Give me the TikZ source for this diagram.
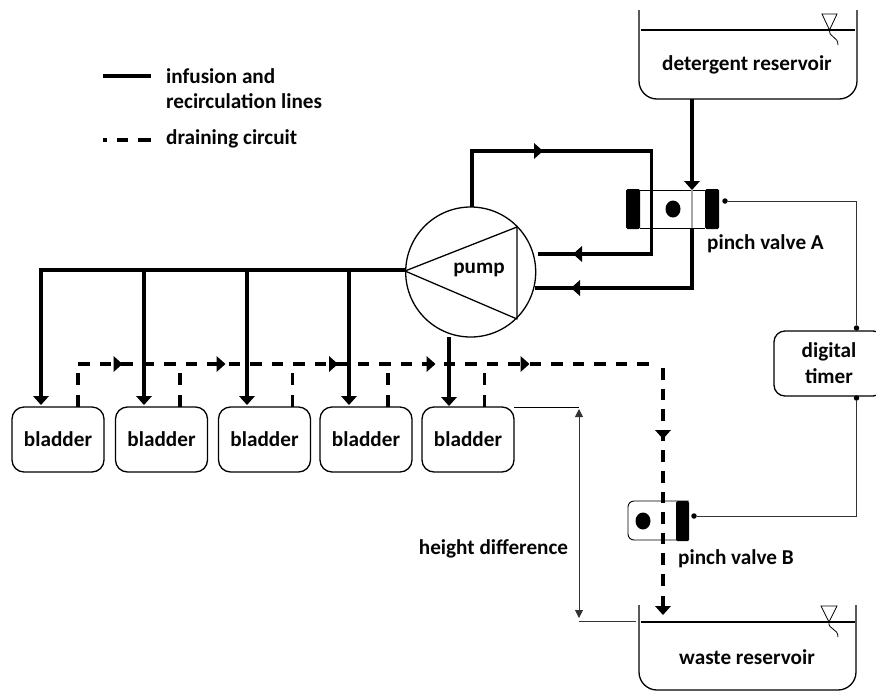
\documentclass[tikz,border=0pt]{standalone}
\usepackage{fontspec}
\setmainfont{Carlito}
\usetikzlibrary{arrows.meta,calc}
\definecolor{ink}{gray}{0.02}
\tikzset{
  x=1pt,y=-1pt,
  lbl/.style={font=\fontsize{21.2}{25}\selectfont\bfseries,text=ink,inner sep=0pt,align=left},
  pipe/.style={draw=black,line width=3.1pt},
  drain/.style={draw=black,line width=3.1pt,dash pattern=on 11.5pt off 10pt},
  drainv/.style={draw=black,line width=3.1pt,dash pattern=on 11.5pt off 9.1pt},
  wire/.style={draw=black!80,line width=1pt},
  outline/.style={draw=black,line width=1.3pt},
  bladderbox/.style={outline,rounded corners=12pt,minimum width=92pt,minimum height=65pt,inner sep=0pt,font=\fontsize{21.2}{25}\selectfont\bfseries,text=ink},
  pindot/.style={circle,fill=black,inner sep=0pt,minimum size=5.5pt},
}
\newcommand{\headR}[2]{\fill (#1-9,#2-8) -- (#1,#2) -- (#1-9,#2+8) -- cycle;}
\newcommand{\headL}[2]{\fill (#1+9,#2-8) -- (#1,#2) -- (#1+9,#2+8) -- cycle;}
\newcommand{\headD}[2]{\fill (#1-8,#2-9) -- (#1,#2) -- (#1+8,#2-9) -- cycle;}
\begin{document}
\begin{tikzpicture}
\useasboundingbox (0,0) rectangle (876,691);
% legend
\coordinate (l1a) at (103,76); \coordinate (l1b) at (151,76);
\coordinate (l2a) at (103,140); \coordinate (l2b) at (151,140);
\draw[pipe] (l1a) -- (l1b);
\draw[pipe,dash pattern=on 4pt off 10pt on 11pt off 10pt on 13pt off 9pt] (l2a) -- (l2b);
\node[lbl,anchor=west] (legA) at (166,76) {infusion and};
\node[lbl,anchor=west] (legB) at (166,101) {recirculation lines};
\node[lbl,anchor=west] (legC) at (166,139) {draining circuit};
% reservoirs
\draw[outline,rounded corners=18pt] (639,10) -- (639,99) -- (857,99) -- (857,10);
\draw[outline] (641,30) -- (855,30);
\draw[line width=0.8pt] (822,14) -- (837,14) -- (829.5,30) -- cycle;
\draw[line width=0.8pt] (829.5,30) .. controls (829,38) and (838,36) .. (838,45);
\node[lbl] (det) at (747,65) {detergent reservoir};
\draw[outline,rounded corners=18pt] (639,605) -- (639,690) -- (856,690) -- (856,605);
\draw[outline] (641,622) -- (855,622);
\draw[line width=0.8pt] (821,606) -- (837,606) -- (829,622) -- cycle;
\draw[line width=0.8pt] (829,622) .. controls (828,630) and (838,628) .. (838,637);
\node[lbl] (wst) at (747,657) {waste reservoir};
% bladders
\node[bladderbox] (b1) at (58,439.5) {\raisebox{-1pt}{bladder}};
\node[bladderbox] (b2) at (161.5,439.5) {bladder};
\node[bladderbox] (b3) at (264.5,439.5) {bladder};
\node[bladderbox] (b4) at (366,439.5) {bladder};
\node[bladderbox] (b5) at (468,439.5) {bladder};
% pump
\coordinate (pc) at (470.7,272);
\draw[outline,line width=1.3pt] (pc) circle[radius=65];
\draw[outline,line width=1.3pt,line join=round] (405,271) -- (517,227) -- (517,319) -- cycle;
\node[lbl] (pumpl) at (479,270) {pump};
% infusion
\draw[pipe,line join=miter] (405,270) -- (41,270) -- (41,397);
\headD{41}{405}
\foreach \x in {144,247,349}{\draw[pipe] (\x,270) -- (\x,397); \headD{\x}{405}}
\draw[pipe] (449,337) -- (449,397); \headD{449}{406}
% recirculation
\draw[pipe,line join=miter] (472,207) -- (472,151) -- (651.5,151) -- (651.5,254) -- (538,254);
\headR{543}{151}
\headL{573}{254}
% detergent
\draw[pipe] (692,99) -- (692,184);
\headD{692}{190}
\draw[pipe,line join=miter] (692,229) -- (692,288) -- (535,288);
\headL{571}{288}
% valve A
\fill[black,rounded corners=1.5pt] (626,189) rectangle (640,229);
\fill[black,rounded corners=1.5pt] (705,189) rectangle (719,229);
\draw[line width=0.9pt] (640,190) -- (705,190) (640,228) -- (705,228);
\fill[black!35] (691,190) rectangle (693,228);
\fill[black] (673,209) ellipse[x radius=7.5,y radius=8.5];
\node[lbl] (vA) at (765.5,244) {pinch valve A};
% valve B
\draw[line width=0.9pt,rounded corners=6pt] (689,501) -- (628,501) -- (628,540) -- (689,540);
\fill[black,rounded corners=1.5pt] (676,501) rectangle (689,541);
\fill[black] (643,521) ellipse[x radius=7.5,y radius=8.5];
\node[lbl] (vB) at (736,559) {pinch valve B};
% draining
\draw[drain] (78,364) -- (649,364);
\foreach \x in {78,180,292.7,388,484.5}{\draw[drain,dash pattern=on 12pt off 10pt] (\x,407) -- (\x,372);}
\foreach \x in {122.5,225.5,338,435.5,529.5}{\headR{\x}{364}}
\draw[drainv] (663,368) -- (663,587);
\headD{663}{439}
\headD{663}{615}
\draw[pipe] (663,596) -- (663,610);
% timer
\node[draw=black,line width=1.3pt,rounded corners=11pt,minimum width=110pt,minimum height=65pt,inner sep=0pt,lbl,align=center] (timer) at (829,363.5) {digital\\[1pt]timer};
\node[pindot] (pA) at (725,201) {};
\node[pindot] (pB) at (694,516) {};
\node[pindot] (tA) at (856.5,328) {};
\node[pindot] (tB) at (856.5,398) {};
\draw[wire] (pA) -- (856.5,201) -- (tA);
\draw[wire] (pB) -- (856.5,516) -- (tB);
% height difference
\coordinate (h1) at (579,407); \coordinate (h2) at (579,621);
\draw[line width=0.9pt] (514,407) -- (h1);
\draw[wire] (h2) -- (636,621);
\draw[wire,{Triangle[length=8pt,width=8pt]}-{Triangle[length=8pt,width=8pt]}] (579,409) -- (579,618);
\node[lbl] (hd) at (493.5,549) {height difference};
\end{tikzpicture}
\end{document}
